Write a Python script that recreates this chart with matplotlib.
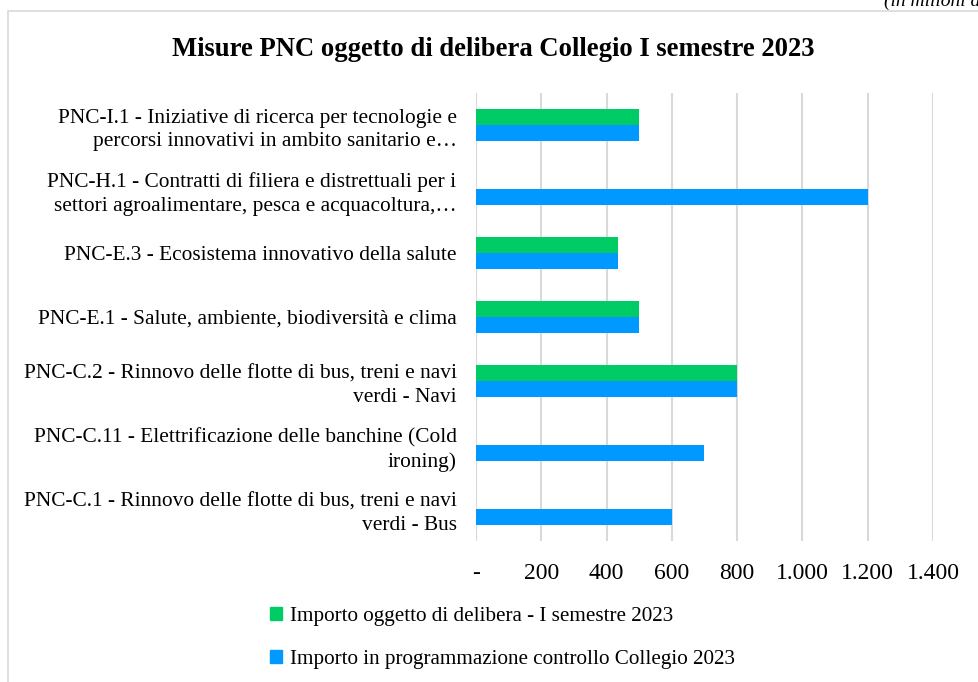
import matplotlib.pyplot as plt
import matplotlib.patches as mpatches
import numpy as np

categories = [
    "PNC-I.1 - Iniziative di ricerca per tecnologie e\npercorsi innovativi in ambito sanitario e\u2026",
    "PNC-H.1 - Contratti di filiera e distrettuali per i\nsettori agroalimentare, pesca e acquacoltura,\u2026",
    "PNC-E.3 - Ecosistema innovativo della salute",
    "PNC-E.1 - Salute, ambiente, biodiversit\u00e0 e clima",
    "PNC-C.2 - Rinnovo delle flotte di bus, treni e navi\nverdi - Navi",
    "PNC-C.11 - Elettrificazione delle banchine (Cold\nironing)",
    "PNC-C.1 - Rinnovo delle flotte di bus, treni e navi\nverdi - Bus",
]
delibera = [500, 0, 435, 500, 800, 0, 0]
programmazione = [500, 1200, 435, 500, 800, 700, 600]
xticks = [0, 200, 400, 600, 800, 1000, 1200, 1400]
xticklabels = ["-", "200", "400", "600", "800", "1.000", "1.200", "1.400"]

green = "#00CC66"
blue = "#0099FF"

plt.rcParams['font.family'] = ['Liberation Serif', 'DejaVu Serif']

fig = plt.figure(figsize=(9.79, 6.82), dpi=100)
ax = fig.add_axes([0.4862, 0.2067, 0.953 - 0.4862, 0.8636 - 0.2067])

n = len(categories)
y = np.arange(n)[::-1]
h = 0.25
d = np.array(delibera, dtype=float)
mask = d > 0
ax.barh(y[mask] + h / 2, d[mask], height=h, color=green, label="Importo oggetto di delibera - I semestre 2023")
ax.barh(y - h / 2, programmazione, height=h, color=blue, label="Importo in programmazione controllo Collegio 2023")

ax.set_ylim(-0.5, n - 0.5)
ax.set_xlim(0, 1400)
ax.set_yticks(y)
ax.set_yticklabels(categories, fontsize=15.4, ha='right', linespacing=1.33)
ax.set_xticks(xticks)
ax.set_xticklabels(xticklabels, fontsize=17)
ax.tick_params(axis='y', length=0, pad=14)
ax.tick_params(axis='x', length=0, pad=16)
ax.grid(axis='x', color='#d9d9d9', linewidth=1.5)
ax.set_axisbelow(True)
for s in ax.spines.values():
    s.set_visible(False)

fig.text(0.504, 0.928, "Misure PNC oggetto di delibera Collegio I semestre 2023",
         ha='center', va='center', fontsize=19.2, fontweight='bold')
fig.text(0.903, 0.998, "(in milioni di euro)", ha='left', va='center', fontsize=14, style='italic')

# bordo del grafico
fig.patches.append(mpatches.Rectangle((8 / 979, -0.05), 1.1, 1.05 - 11 / 682,
                                      transform=fig.transFigure, fill=False,
                                      edgecolor='#d9d9d9', linewidth=1.2))

handles = [mpatches.Patch(color=green), mpatches.Patch(color=blue)]
labels = ["Importo oggetto di delibera - I semestre 2023",
          "Importo in programmazione controllo Collegio 2023"]
fig.legend(handles, labels, loc='center left', bbox_to_anchor=(0.256, 0.0645),
           frameon=False, fontsize=15.2, handlelength=0.57, handleheight=0.57,
           handletextpad=0.4, labelspacing=1.15)

fig.savefig("out.png", dpi=100)
